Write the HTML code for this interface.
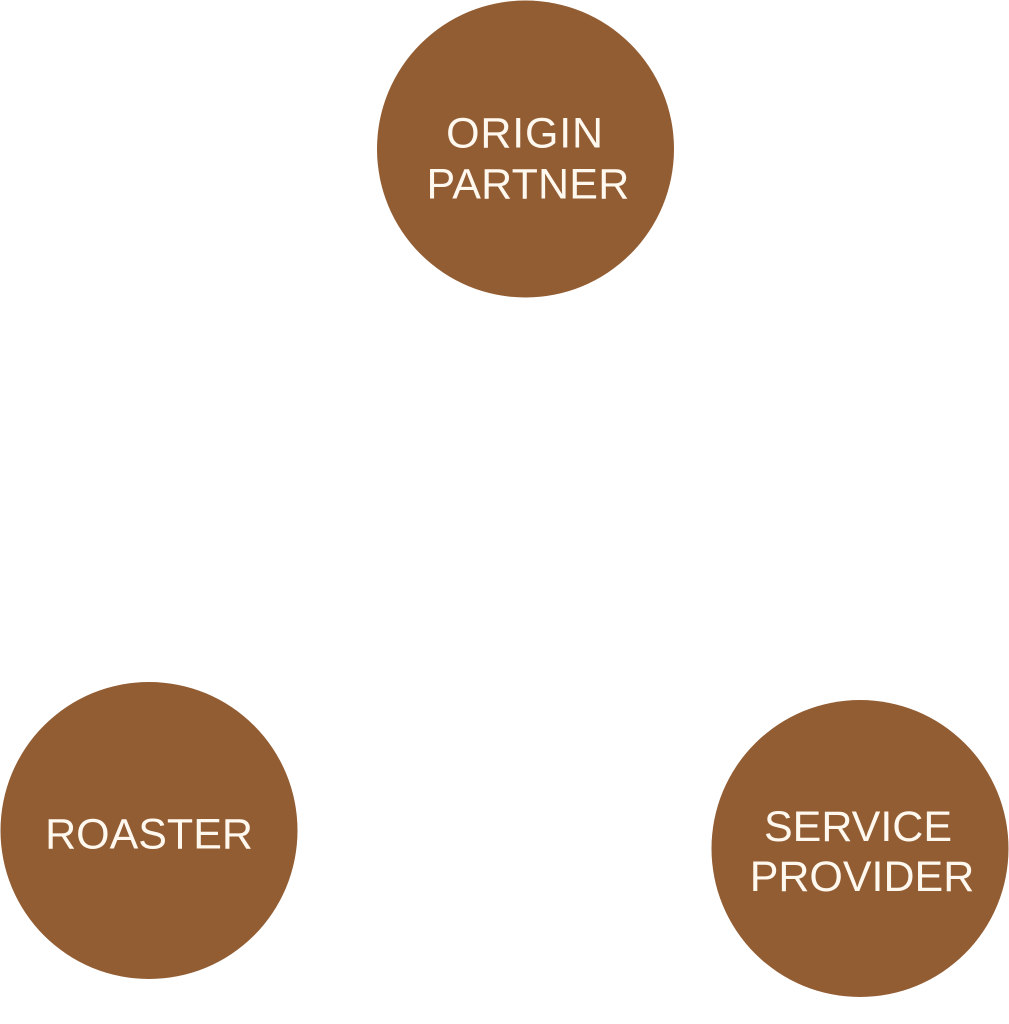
<!DOCTYPE html>
<html>
<head>
<meta charset="utf-8">
<style>
  html,body{margin:0;padding:0;background:#ffffff;}
  svg{display:block;}
  text{font-family:"Liberation Sans",sans-serif;font-size:43px;fill:#FFF8EF;text-anchor:middle;}
</style>
</head>
<body>
<svg width="1009" height="1024" viewBox="0 0 1009 1024" xmlns="http://www.w3.org/2000/svg">
  <rect width="1009" height="1024" fill="#ffffff"/>
  <circle cx="525.5" cy="149" r="148.5" fill="#935D33"/>
  <circle cx="149" cy="830.5" r="148.5" fill="#935D33"/>
  <circle cx="860" cy="848.5" r="148.5" fill="#935D33"/>
  <text x="525" y="147.5" style="letter-spacing:0.8px">ORIGIN</text>
  <text x="528" y="198.5" style="letter-spacing:0.2px">PARTNER</text>
  <text x="149" y="848.5">ROASTER</text>
  <text x="858" y="841">SERVICE</text>
  <text x="862" y="891">PROVIDER</text>
</svg>
</body>
</html>
